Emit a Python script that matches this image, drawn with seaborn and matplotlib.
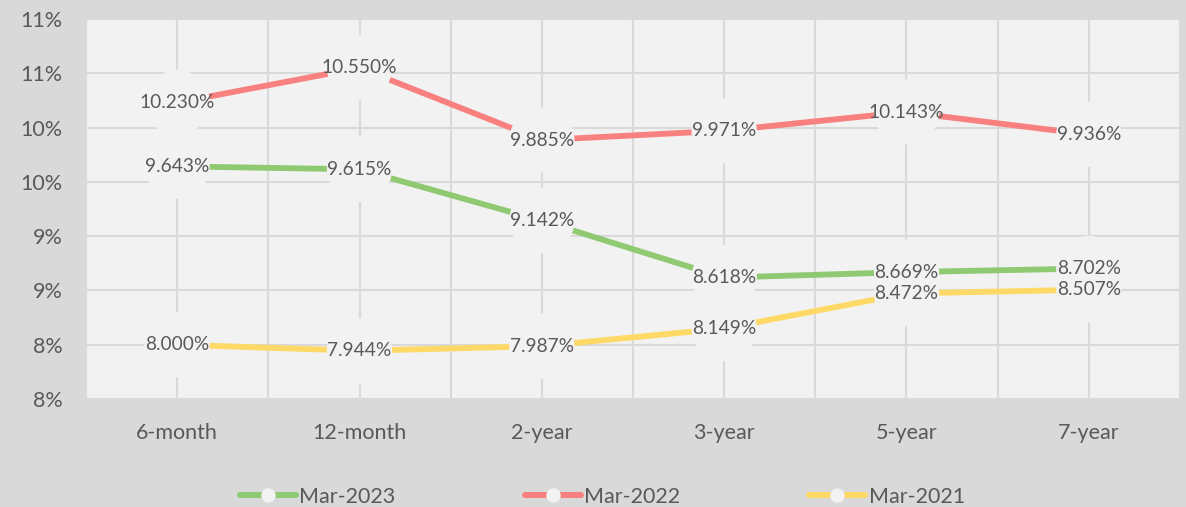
import math
import numpy as np
import pandas as pd
import matplotlib
matplotlib.use("Agg")
import matplotlib.pyplot as plt
from matplotlib.lines import Line2D
from matplotlib.ticker import FuncFormatter
import seaborn as sns

tenors = ["6-month", "12-month", "2-year", "3-year", "5-year", "7-year"]
mar_2023 = [9.643, 9.615, 9.142, 8.618, 8.669, 8.702]
mar_2022 = [10.230, 10.550, 9.885, 9.971, 10.143, 9.936]
mar_2021 = [8.000, 7.944, 7.987, 8.149, 8.472, 8.507]
series_names = ["Mar-2023", "Mar-2022", "Mar-2021"]
colors = {"Mar-2023": "#8FCA73", "Mar-2022": "#F8807F", "Mar-2021": "#FFD966"}

rows = []
for name, vals in zip(series_names, [mar_2023, mar_2022, mar_2021]):
    for t, v in zip(tenors, vals):
        rows.append({"tenor": t, "value": v, "series": name})
df = pd.DataFrame(rows)

sns.set_theme(style="white")
plt.rcParams["font.family"] = ["Lato", "DejaVu Sans"]

OUTER = "#D9D9D9"
PLOT = "#F2F2F2"
GRID = "#D9D9D9"
TXT = "#595959"

fig = plt.figure(figsize=(11.86, 5.07), dpi=100, facecolor=OUTER)
ax = fig.add_axes([86 / 1186, 1 - 399 / 507, (1180 - 86) / 1186, (399 - 19) / 507])
ax.set_facecolor(PLOT)

sns.lineplot(data=df, x="tenor", y="value", hue="series", palette=colors,
             hue_order=series_names, linewidth=4.2, sort=False, legend=False,
             ax=ax, zorder=2)
sns.scatterplot(data=df, x="tenor", y="value", color=PLOT, s=47 ** 2,
                edgecolor="none", linewidth=0, legend=False, ax=ax, zorder=3)

for _, r in df.iterrows():
    ax.text(tenors.index(r["tenor"]), r["value"], f"{r['value']:.3f}%",
            ha="center", va="center", fontsize=13.8, color=TXT, zorder=4)

ax.set_xlim(-0.5, 5.5)
ax.set_ylim(7.5, 11.0)
ax.set_yticks(np.arange(7.5, 11.01, 0.5))
ax.yaxis.set_major_formatter(FuncFormatter(
    lambda v, p: f"{int(math.floor(round(v * 2) / 2 + 0.5))}%"))
ax.set_xticks(range(len(tenors)))
ax.set_xticklabels(tenors)
ax.set_xticks(np.arange(-0.5, 5.51, 1.0), minor=True)
ax.set_axisbelow(True)
ax.grid(which="both", axis="x", color=GRID, linewidth=1.5, zorder=0.5)
ax.grid(which="major", axis="y", color=GRID, linewidth=1.5, zorder=0.5)
ax.tick_params(axis="both", which="both", length=0)
ax.tick_params(axis="y", pad=17, labelsize=15.5, labelcolor=TXT)
ax.tick_params(axis="x", pad=17, labelsize=15.5, labelcolor=TXT)
ax.set_xlabel("")
ax.set_ylabel("")
for s in ax.spines.values():
    s.set_visible(False)

handles = [Line2D([0], [0], color=colors[n], lw=4.3, marker="o", markersize=9.4,
                  markerfacecolor=PLOT, markeredgecolor=PLOT) for n in series_names]
leg = fig.legend(handles, series_names, loc="center", bbox_to_anchor=(0.508, 0.02),
                 ncol=3, frameon=False, fontsize=15.5, handlelength=2.6,
                 handletextpad=0.15, columnspacing=6.0, borderpad=0)
for t in leg.get_texts():
    t.set_color(TXT)

fig.savefig("out.png", dpi=100, facecolor=OUTER)
